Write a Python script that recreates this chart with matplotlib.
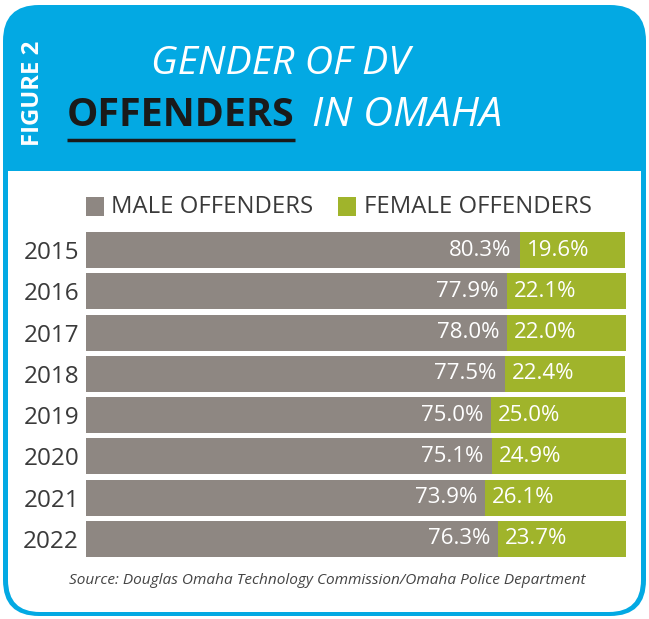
import matplotlib
matplotlib.use("Agg")
import matplotlib.pyplot as plt
from matplotlib.patches import FancyBboxPatch, Rectangle

years = ["2015", "2016", "2017", "2018", "2019", "2020", "2021", "2022"]
male = [80.3, 77.9, 78.0, 77.5, 75.0, 75.1, 73.9, 76.3]
female = [19.6, 22.1, 22.0, 22.4, 25.0, 24.9, 26.1, 23.7]
series_names = ["MALE OFFENDERS", "FEMALE OFFENDERS"]

BLUE = "#03A9E3"
GRAY = "#8E8782"
GREEN = "#A0B42B"
DARK = "#3a3a3a"

W, H = 649, 619
fig = plt.figure(figsize=(W / 100, H / 100), dpi=100)
bg = fig.add_axes([0, 0, 1, 1])
bg.set_xlim(0, W)
bg.set_ylim(H, 0)
bg.axis("off")

# frame
bg.add_patch(FancyBboxPatch((3, 5), 643, 611, boxstyle="round,pad=0,rounding_size=36",
                            fc=BLUE, ec="none"))
bg.add_patch(FancyBboxPatch((8, 171), 633, 441, boxstyle="round,pad=0,rounding_size=32",
                            fc="white", ec="none"))
bg.add_patch(Rectangle((8, 171), 633, 60, fc="white", ec="none"))

renderer = fig.canvas.get_renderer()


def fit(t, target_w):
    bb = t.get_window_extent(renderer)
    t.set_fontsize(t.get_fontsize() * target_w / bb.width)


# title
t1 = bg.text(280, 64, "GENDER OF DV", color="white", fontsize=30, family="Open Sans",
             ha="center", va="center", fontstyle="italic")
fit(t1, 258)
t2 = bg.text(67, 116, "OFFENDERS", color="#1a1a1a", fontsize=30, family="Open Sans",
             fontweight="bold", ha="left", va="center")
fit(t2, 228)
bg.plot([67, 295], [140, 140], color="#1a1a1a", lw=2.5, solid_capstyle="butt")
t3 = bg.text(312, 116, "IN OMAHA", color="white", fontsize=30, family="Open Sans",
             ha="left", va="center", fontstyle="italic")
fit(t3, 190)
t4 = bg.text(33, 93, "FIGURE 2", color="white", fontsize=14, family="Open Sans",
             fontweight="bold", rotation=90, ha="center", va="center")
bb = t4.get_window_extent(renderer)
t4.set_fontsize(t4.get_fontsize() * 106 / bb.height)

# legend
bg.add_patch(Rectangle((86, 197), 18, 19, fc=GRAY, ec="none"))
l1 = bg.text(111, 207, series_names[0], color=DARK, fontsize=16, family="Open Sans",
             ha="left", va="center")
fit(l1, 201)
bg.add_patch(Rectangle((338, 197), 18, 19, fc=GREEN, ec="none"))
l2 = bg.text(364, 207, series_names[1], color=DARK, fontsize=16, family="Open Sans",
             ha="left", va="center")
fit(l2, 226)

# source
s = bg.text(327, 581, "Source: Douglas Omaha Technology Commission/Omaha Police Department",
            color="#444444", fontsize=10, family="Open Sans", fontstyle="italic",
            ha="center", va="center")
fit(s, 516)

# bars
x0, x1 = 86, 626
y0, y1 = 232, 557
ax = fig.add_axes([x0 / W, 1 - y1 / H, (x1 - x0) / W, (y1 - y0) / H])
ax.patch.set_alpha(0)
n = len(years)
pitch = (y1 - y0 - 36) / (n - 1)
hfrac = 36 / pitch
ax.set_ylim(n - 1 + hfrac / 2, -hfrac / 2)
ax.set_xlim(0, 100)
pos = list(range(n))
ax.barh(pos, male, height=hfrac, color=GRAY, edgecolor="none")
ax.barh(pos, female, left=male, height=hfrac, color=GREEN, edgecolor="none")
for i in pos:
    ax.text(male[i] - 1.5, i, f"{male[i]:.1f}%", color="white", fontsize=16,
            family="Open Sans", ha="right", va="center")
    ax.text(male[i] + 1.3, i, f"{female[i]:.1f}%", color="white", fontsize=16,
            family="Open Sans", ha="left", va="center")
ax.set_yticks(pos)
ax.set_yticklabels(years, family="Open Sans", fontsize=17.5, color=DARK)
ax.tick_params(axis="y", length=0, pad=5)
ax.set_xticks([])
for sp in ax.spines.values():
    sp.set_visible(False)

fig.savefig("out.png", dpi=100)
